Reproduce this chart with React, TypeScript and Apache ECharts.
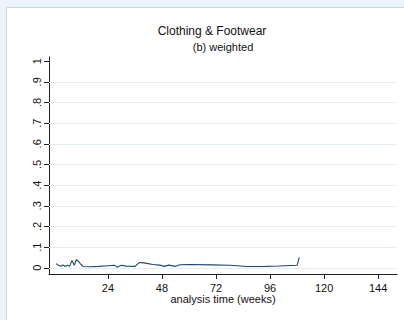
import React, { useEffect, useRef } from "react";
import * as echarts from "echarts";

const titleText = "Clothing & Footwear";
const subtitleText = "(b) weighted";
const xAxisName = "analysis time (weeks)";

const weeks = [1, 2, 3, 4, 5, 6, 7, 8, 9, 10, 11, 12, 13, 16, 20, 24, 27, 28, 30, 32, 36, 38, 40, 44, 47, 49, 51, 54, 56, 60, 70, 78, 86, 94, 100, 108, 109];
const hazard = [0.02, 0.012, 0.008, 0.014, 0.006, 0.012, 0.008, 0.036, 0.012, 0.04, 0.03, 0.016, 0.006, 0.005, 0.007, 0.01, 0.012, 0.003, 0.012, 0.008, 0.007, 0.026, 0.024, 0.016, 0.013, 0.007, 0.013, 0.007, 0.015, 0.016, 0.014, 0.012, 0.006, 0.007, 0.009, 0.012, 0.05];

const xTicks = [24, 48, 72, 96, 120, 144];
const yTicks = [0, 0.1, 0.2, 0.3, 0.4, 0.5, 0.6, 0.7, 0.8, 0.9, 1];
const yGrid = [0, 0.1, 0.2, 0.3, 0.4, 0.5, 0.6, 0.7, 0.8, 0.9];

const FONT = "Liberation Sans, Arial, sans-serif";

export default function App() {
  const ref = useRef<HTMLDivElement>(null);
  useEffect(() => {
    if (!ref.current) return;
    const chart = echarts.init(ref.current, null, { renderer: "svg" });
    const fmtY = (v: number) => {
      const r = Math.round(v * 10) / 10;
      if (r === 0) return "0";
      if (r === 1) return "1";
      return "." + Math.round(r * 10);
    };
    chart.setOption({
      animation: false,
      backgroundColor: "#edf3fa",
      graphic: [
        {
          type: "rect",
          z: -10,
          shape: { x: 6.5, y: 7.5, width: 420, height: 340 },
          style: { fill: "#ffffff", stroke: "#c6d6ec", lineWidth: 1 },
          silent: true,
        },
        {
          type: "text",
          x: 212,
          y: 31,
          style: { text: titleText, fill: "#111", font: `12px ${FONT}`, textAlign: "center", textVerticalAlign: "middle" },
        },
        {
          type: "text",
          x: 223,
          y: 47,
          style: { text: subtitleText, fill: "#111", font: `11px ${FONT}`, textAlign: "center", textVerticalAlign: "middle" },
        },
      ],
      grid: { left: 49, right: 7, top: 57, bottom: 46, containLabel: false },
      xAxis: {
        type: "value",
        min: -2.2,
        max: 152.4,
        name: xAxisName,
        nameLocation: "middle",
        nameGap: 19,
        nameMoveOverlap: false,
        nameTextStyle: { fontFamily: FONT, fontSize: 11, color: "#111" },
        axisLine: { show: true, onZero: false, lineStyle: { color: "#222", width: 1 } },
        axisTick: { show: true, length: 5, customValues: xTicks, lineStyle: { color: "#222" } },
        axisLabel: {
          customValues: xTicks,
          margin: 8,
          fontFamily: FONT,
          fontSize: 11,
          color: "#111",
        },
        splitLine: { show: false },
      },
      yAxis: {
        type: "value",
        min: -0.03,
        max: 1.02,
        axisLine: { show: true, onZero: false, lineStyle: { color: "#222", width: 1 } },
        axisTick: { show: true, length: 5, customValues: yTicks, lineStyle: { color: "#222" } },
        axisLabel: {
          customValues: yTicks,
          rotate: 90,
          margin: 7,
          fontFamily: FONT,
          fontSize: 11,
          color: "#111",
          formatter: fmtY,
        },
        splitLine: { show: false },
      },
      series: [
        {
          type: "line",
          data: weeks.map((w, i) => [w, hazard[i]]),
          showSymbol: false,
          symbol: "none",
          lineStyle: { color: "#1a476f", width: 1.1 },
          z: 5,
          markLine: {
            silent: true,
            symbol: "none",
            label: { show: false },
            lineStyle: { color: "#e3eef0", width: 1, type: "solid" },
            data: yGrid.map((v) => ({ yAxis: v })),
            z: 1,
          },
        },
      ],
    });
    return () => chart.dispose();
  }, []);
  return <div ref={ref} style={{ width: 404, height: 320, position: "absolute", left: 0, top: 0 }} />;
}
